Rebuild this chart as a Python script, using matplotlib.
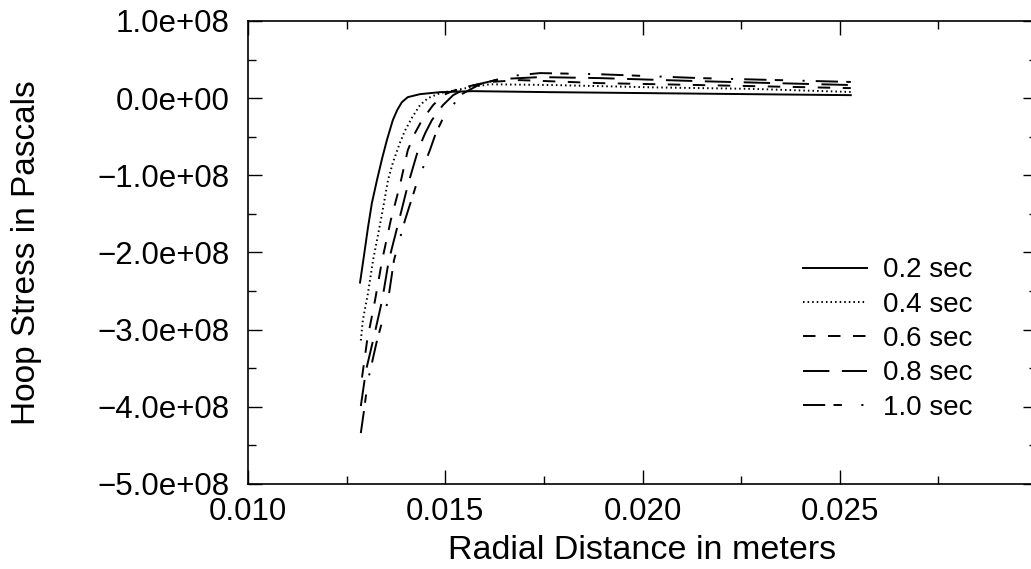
import numpy as np
import matplotlib
matplotlib.use("Agg")
import matplotlib.pyplot as plt
from matplotlib.ticker import MultipleLocator, FuncFormatter

plt.rcParams['font.family'] = ['Liberation Sans', 'DejaVu Sans']
plt.rcParams['lines.scale_dashes'] = False

# hoop stress vs radius (x in m, y in Pa)
x_02 = [0.01284, 0.01294, 0.01304, 0.01314, 0.01327, 0.01340, 0.01352, 0.01367, 0.01378,
        0.01390, 0.01405, 0.01436, 0.01487, 0.01570, 0.01765, 0.02019, 0.02272, 0.02528]
y_02 = [-2.39e8, -2.04e8, -1.68e8, -1.36e8, -1.06e8, -0.78e8, -0.545e8, -0.286e8, -0.156e8,
        -0.052e8, 0.013e8, 0.052e8, 0.078e8, 0.091e8, 0.078e8, 0.065e8, 0.052e8, 0.039e8]

x_04 = [0.01286, 0.01291, 0.01304, 0.01317, 0.01327, 0.01340, 0.01355, 0.01367, 0.01385,
        0.01398, 0.01416, 0.01436, 0.01456, 0.01487, 0.01563, 0.01613, 0.01773, 0.02026,
        0.02280, 0.02528]
y_04 = [-3.14e8, -2.88e8, -2.53e8, -2.10e8, -1.84e8, -1.49e8, -1.06e8, -0.84e8, -0.58e8,
        -0.42e8, -0.25e8, -0.09e8, 0.0, 0.065e8, 0.14e8, 0.18e8, 0.17e8, 0.14e8,
        0.12e8, 0.08e8]

x_06 = [0.01289, 0.01302, 0.01322, 0.01340, 0.01362, 0.01385, 0.01405, 0.01423, 0.01441,
        0.01469, 0.01494, 0.01537, 0.01613, 0.01689, 0.01892, 0.02145, 0.02528]
y_06 = [-3.62e8, -3.14e8, -2.62e8, -2.10e8, -1.58e8, -1.13e8, -0.675e8, -0.455e8, -0.286e8,
        -0.091e8, 0.039e8, 0.13e8, 0.21e8, 0.234e8, 0.195e8, 0.17e8, 0.13e8]

x_08 = [0.01286, 0.01299, 0.01317, 0.01340, 0.01357, 0.01383, 0.01405, 0.01431, 0.01449,
        0.01466, 0.01494, 0.01520, 0.01563, 0.01639, 0.01740, 0.01892, 0.02145, 0.02528]
y_08 = [-3.99e8, -3.53e8, -3.14e8, -2.62e8, -2.10e8, -1.58e8, -1.13e8, -0.675e8, -0.455e8,
        -0.286e8, -0.091e8, 0.039e8, 0.156e8, 0.247e8, 0.273e8, 0.26e8, 0.22e8, 0.17e8]

x_10 = [0.01286, 0.01294, 0.01304, 0.01327, 0.01355, 0.01370, 0.01398, 0.01426, 0.01461,
        0.01476, 0.01492, 0.01520, 0.01537, 0.01588, 0.01664, 0.01740, 0.01892, 0.02145,
        0.02528]
y_10 = [-4.34e8, -4.05e8, -3.66e8, -3.14e8, -2.62e8, -2.10e8, -1.58e8, -1.13e8, -0.675e8,
        -0.455e8, -0.286e8, -0.091e8, 0.039e8, 0.18e8, 0.286e8, 0.325e8, 0.31e8, 0.26e8,
        0.21e8]

labels = ['0.2 sec', '0.4 sec', '0.6 sec', '0.8 sec', '1.0 sec']
styles = ['-', (0, (1.1, 2.2)), (0, (9, 9)), (0, (19, 9)), (0, (16, 6, 6, 14, 1.5, 8))]


def xfmt(v, p):
    # the 0.030 label sits past the figure edge in the original
    return '' if v > 0.0299 else f"{v:.3f}"


def yfmt(v, p):
    s = f"{abs(v):.1e}"
    return '\u2212' + s if v < 0 else s


fig = plt.figure(figsize=(10.31, 5.69), dpi=100)
ax = fig.add_axes([248 / 1031, 1 - 484 / 569, 789 / 1031, 463 / 569])

series = [(x_02, y_02), (x_04, y_04), (x_06, y_06), (x_08, y_08), (x_10, y_10)]
for (xs, ys), lab, ls in zip(series, labels, styles):
    ax.plot(xs, ys, color='black', lw=1.4, linestyle=ls, label=lab)

ax.set_xlim(0.010, 0.030)
ax.set_ylim(-5e8, 1e8)
ax.xaxis.set_major_locator(MultipleLocator(0.005))
ax.xaxis.set_minor_locator(MultipleLocator(0.0025))
ax.yaxis.set_major_locator(MultipleLocator(1e8))
ax.yaxis.set_minor_locator(MultipleLocator(0.5e8))
ax.xaxis.set_major_formatter(FuncFormatter(xfmt))
ax.yaxis.set_major_formatter(FuncFormatter(yfmt))

ax.tick_params(which='both', direction='in', top=True, right=True, width=1.0)
ax.tick_params(which='major', length=10)
ax.tick_params(which='minor', length=5.5)
ax.tick_params(axis='x', labelsize=22.5, pad=9)
ax.tick_params(axis='y', labelsize=22.5, pad=13)
for s in ax.spines.values():
    s.set_linewidth(1.2)

ax.set_xlabel('Radial Distance in meters', fontsize=24.5, labelpad=6)
ax.set_ylabel('Hoop Stress in Pascals', fontsize=24, labelpad=40)

ax.legend(loc='center', bbox_to_anchor=(0.861, 0.404), bbox_transform=fig.transFigure,
          frameon=False, fontsize=20, handlelength=2.3, handletextpad=0.58,
          labelspacing=0.3, borderpad=0.2)

fig.savefig('out.png', dpi=100)
